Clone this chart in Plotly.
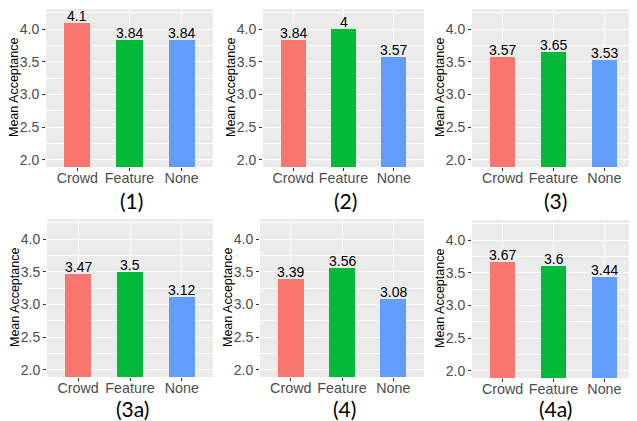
import plotly.graph_objects as go

OFF = 8  # page body margin in the browser
W, H = 637 - OFF, 421 - OFF

categories = ["Crowd", "Feature", "None"]
colors = ["#F8766D", "#00BA38", "#619CFF"]
panel_labels = ["(1)", "(2)", "(3)", "(3a)", "(4)", "(4a)"]
values_1 = [4.1, 3.84, 3.84]
values_2 = [3.84, 4, 3.57]
values_3 = [3.57, 3.65, 3.53]
values_3a = [3.47, 3.5, 3.12]
values_4 = [3.39, 3.56, 3.08]
values_4a = [3.67, 3.6, 3.44]
series = [values_1, values_2, values_3, values_3a, values_4, values_4a]
y_ticks = [2.0, 2.5, 3.0, 3.5, 4.0]
y_minor = [2.25, 2.75, 3.25, 3.75, 4.25]

# panel boxes in reference pixels: (left, right, top, bottom)
boxes = [
    (46, 213, 9, 167),
    (263, 424, 9, 167),
    (472, 635, 9, 167),
    (47, 213, 219, 377),
    (260, 424, 219, 377),
    (472, 635, 220, 378),
]
label_rows_y = [200, 200, 200, 408, 408, 408]

def px(x):
    return (x - OFF) / W

def py(y):
    return 1 - (y - OFF) / H

fig = go.Figure()
annotations = []
for i, (vals, box) in enumerate(zip(series, boxes)):
    n = i + 1
    l, r, t, b = box
    xa = "x" if n == 1 else f"x{n}"
    ya = "y" if n == 1 else f"y{n}"
    fig.add_trace(go.Bar(
        x=categories, y=vals, marker=dict(color=colors, line=dict(width=0)),
        width=0.5, xaxis=xa, yaxis=ya, showlegend=False, hoverinfo="skip",
    ))
    for c, v in zip(categories, vals):
        annotations.append(dict(
            x=c, y=v, xref=xa, yref=ya, text=f"{v:g}", showarrow=False,
            yanchor="bottom", yshift=-3,
            font=dict(family="Liberation Sans, Arial", size=14, color="black"),
        ))
    # y-axis title
    annotations.append(dict(
        x=px(l - 32), y=py((t + b) / 2), xref="paper", yref="paper",
        text="Mean Acceptance", textangle=-90, showarrow=False,
        xanchor="center", yanchor="middle",
        font=dict(family="Liberation Sans, Arial", size=12.5, color="black"),
    ))
    # panel label
    annotations.append(dict(
        x=px((l + r) / 2 + 2), y=py(label_rows_y[i]), xref="paper", yref="paper",
        text=panel_labels[i], showarrow=False, xanchor="center", yanchor="middle",
        font=dict(family="Lato, Open Sans", size=21, color="black"),
    ))
    axis_common = dict(showline=False, zeroline=False)
    fig.layout[f"xaxis{'' if n == 1 else n}"] = dict(
        domain=[px(l), px(r)], anchor=ya, range=[-0.6, 2.6],
        showgrid=True, gridcolor="white", gridwidth=1.2,
        ticks="outside", ticklen=3, tickcolor="#333333", tickwidth=1,
        ticklabelstandoff=-5,
        tickfont=dict(family="Liberation Sans, Arial", size=14.3, color="#4D4D4D"),
        fixedrange=True, **axis_common,
    )
    fig.layout[f"yaxis{'' if n == 1 else n}"] = dict(
        domain=[py(b), py(t)], anchor=xa, range=[1.89, 4.31],
        tickmode="array", tickvals=y_ticks, ticktext=[f"{v:.1f}" for v in y_ticks],
        showgrid=True, gridcolor="white", gridwidth=1.2,
        minor=dict(tickmode="array", tickvals=y_minor, showgrid=True,
                   gridcolor="white", gridwidth=0.6, ticks=""),
        ticks="outside", ticklen=3, tickcolor="#333333", tickwidth=1,
        tickfont=dict(family="Liberation Sans, Arial", size=14, color="#4D4D4D"),
        fixedrange=True, **axis_common,
    )

fig.update_layout(
    width=W, height=H, margin=dict(l=0, r=0, t=0, b=0),
    paper_bgcolor="white", plot_bgcolor="#EBEBEB",
    annotations=annotations, bargap=0,
)
fig.write_html("out.html")
